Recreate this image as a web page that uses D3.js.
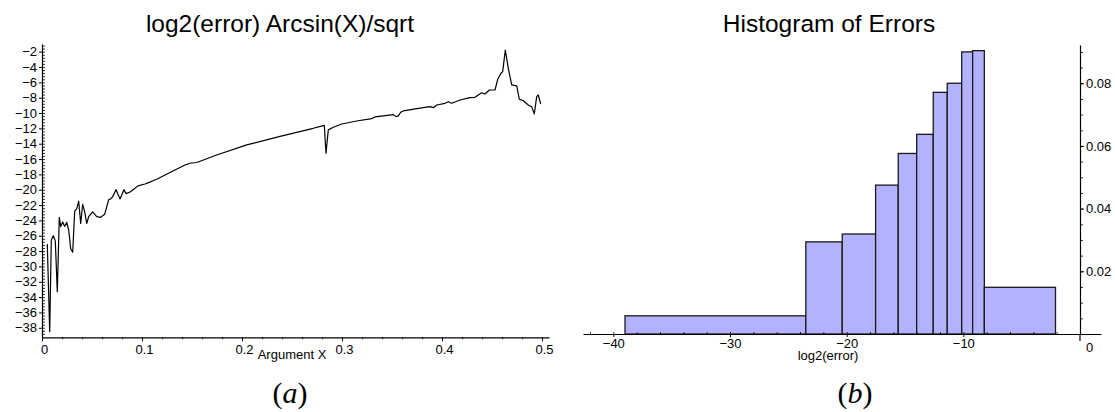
<!DOCTYPE html>
<html>
<head>
<meta charset="utf-8">
<script src="https://cdn.jsdelivr.net/npm/d3@7"></script>
<style>
  html, body { margin: 0; padding: 0; background: #fff; }
  svg { display: block; }
  .tick text { font-family: "Liberation Sans", Arial, sans-serif; font-size: 13px; fill: #000; }
  .title { font-family: "Liberation Sans", Arial, sans-serif; font-size: 24.5px; fill: #000; }
  .alabel { font-family: "Liberation Sans", Arial, sans-serif; font-size: 13px; fill: #000; }
  .cap { font-family: "Liberation Serif", "DejaVu Serif", serif; font-size: 30px; fill: #000; }
</style>
</head>
<body>
<svg id="chart" width="1115" height="412"></svg>
<script>
// ---- (a) log2 of the error of Arcsin(X)/sqrt against the argument ----
const argX = [
  0.0053, 0.0077, 0.0093, 0.0113, 0.0133, 0.0153, 0.0173, 0.0187, 0.0207, 0.0227,
  0.0247, 0.0267, 0.0287, 0.0307, 0.0327, 0.0347, 0.0367, 0.0387, 0.0407, 0.0427,
  0.0447, 0.0467, 0.0507, 0.0547, 0.0587, 0.0627, 0.0667, 0.0687, 0.0707, 0.0740,
  0.0780, 0.0820, 0.0840, 0.0880, 0.0920, 0.0960, 0.1030, 0.1060, 0.1147, 0.1310,
  0.1430, 0.1480, 0.1547, 0.1747, 0.2047, 0.2380, 0.2713, 0.2823, 0.2840, 0.2863,
  0.2913, 0.2997, 0.3147, 0.3297, 0.3330, 0.3513, 0.3540, 0.3563, 0.3587, 0.3613,
  0.3813, 0.3880, 0.3913, 0.3947, 0.4030, 0.4063, 0.4097, 0.4180, 0.4280, 0.4330,
  0.4363, 0.4397, 0.4430, 0.4473, 0.4530, 0.4557, 0.4590, 0.4607, 0.4633, 0.4663,
  0.4697, 0.4747, 0.4773, 0.4813, 0.4863, 0.4897, 0.4923, 0.4947, 0.4963, 0.4987
];
const log2Err = [
  -27.07, -38.5, -26.55, -26.0, -26.7, -33.3, -23.6, -24.8, -24.2, -24.8,
  -24.25, -25.25, -27.7, -28.15, -22.8, -22.5, -21.5, -24.4, -21.9, -22.9,
  -24.4, -23.5, -22.9, -23.5, -23.6, -23.2, -21.3, -21.2, -20.9, -20.0,
  -21.2, -20.0, -20.5, -20.3, -19.9, -19.5, -19.25, -19.1, -18.64, -17.55,
  -16.77, -16.55, -16.45, -15.47, -14.16, -13.05, -11.99, -11.6, -15.25, -12.2,
  -11.86, -11.43, -11.04, -10.73, -10.51, -10.21, -10.47, -10.38, -9.9, -9.73,
  -9.3, -9.17, -9.3, -8.95, -8.73, -8.52, -8.73, -8.3, -8.0, -7.95,
  -7.65, -7.35, -7.52, -7.0, -7.0, -5.6, -4.82, -4.6, -1.78, -4.17,
  -6.34, -6.47, -8.2, -8.39, -8.95, -9.17, -10.12, -7.87, -7.65, -8.82
];
const argTicks = [0, 0.1, 0.2, 0.3, 0.4, 0.5];
const argTickLabels = ["0", "0.1", "0.2", "0.3", "0.4", "0.5"];
const errTicks = d3.range(-2, -39, -2);

// ---- (b) histogram of log2(error), equal-area bins ----
const binEdges = [-39.0, -23.5, -20.38, -17.52, -15.58, -14.0, -12.58, -11.38, -10.14, -9.2, -8.2, -2.1];
const binDensity = [0.0058, 0.0294, 0.0319, 0.0475, 0.0576, 0.0637, 0.0771, 0.0800, 0.0900, 0.0904, 0.0149];
const histXTicks = [-40, -30, -20, -10];
const histXTickLabels = ["\u221240", "\u221230", "\u221220", "\u221210"];
const histYTicks = [0, 0.02, 0.04, 0.06, 0.08];
const histYTickLabels = ["0", "0.02", "0.04", "0.06", "0.08"];

const minus = s => s.replace("-", "\u2212");
const svg = d3.select("#chart");

// ===== left panel =====
const xL = d3.scaleLinear().domain([0, 0.507]).range([42, 549]);
const yL = d3.scaleLinear().domain([-39.24, -1.0]).range([337.3, 44]);

const gL = svg.append("g");

// minor ticks
gL.append("g").attr("transform", `translate(${xL(0)},0)`)
  .call(d3.axisRight(yL).tickValues(d3.range(-1.2, -39.2, -0.4)).tickSize(3).tickFormat(""))
  .call(g => g.select(".domain").remove())
  .call(g => g.selectAll("line").attr("stroke", "#000").attr("stroke-width", 0.8));
gL.append("g").attr("transform", `translate(0,${yL(-39.24)})`)
  .call(d3.axisBottom(xL).tickValues(d3.range(0.02, 0.51, 0.02)).tickSize(2).tickFormat(""))
  .call(g => g.select(".domain").remove())
  .call(g => g.selectAll("line").attr("stroke", "#000").attr("stroke-width", 0.8));

// major axes
gL.append("g").attr("transform", `translate(${xL(0)},0)`)
  .call(d3.axisLeft(yL).tickValues(errTicks).tickSize(3).tickPadding(2).tickSizeOuter(0)
    .tickFormat(d => minus(String(d))))
  .call(g => g.select(".domain").attr("stroke", "#000").attr("stroke-width", 1.2))
  .call(g => g.selectAll("text").attr("font-family", null).attr("font-size", null));
gL.append("g").attr("transform", `translate(0,${yL(-39.24)})`)
  .call(d3.axisBottom(xL).tickValues(argTicks).tickSize(4).tickPadding(3).tickSizeOuter(0)
    .tickFormat((d, i) => argTickLabels[i]))
  .call(g => g.select(".domain").attr("stroke", "#000").attr("stroke-width", 1.2))
  .call(g => g.selectAll("text").attr("font-family", null).attr("font-size", null).attr("dx", 2));

// error curve
const line = d3.line().x((d, i) => xL(argX[i])).y(d => yL(d));
gL.append("path").datum(log2Err)
  .attr("d", line)
  .attr("fill", "none")
  .attr("stroke", "#000")
  .attr("stroke-width", 1.2)
  .attr("stroke-linejoin", "round");

gL.append("text").attr("class", "title").attr("x", 280).attr("y", 32)
  .attr("text-anchor", "middle").text("log2(error) Arcsin(X)/sqrt");
gL.append("text").attr("class", "alabel").attr("x", 292).attr("y", 359)
  .attr("text-anchor", "middle").text("Argument X");
const capA = gL.append("text").attr("class", "cap").attr("x", 290).attr("y", 403).attr("text-anchor", "middle");
capA.append("tspan").text("(");
capA.append("tspan").attr("font-style", "italic").text("a");
capA.append("tspan").text(")");

// ===== right panel =====
const xR = d3.scaleLinear().domain([-42.6, 1.8]).range([583, 1101]);
const yR = d3.scaleLinear().domain([0, 0.0922]).range([334, 45]);

const gR = svg.append("g");

// bars
gR.selectAll("rect.bin").data(binDensity).join("rect")
  .attr("class", "bin")
  .attr("x", (d, i) => xR(binEdges[i]))
  .attr("width", (d, i) => xR(binEdges[i + 1]) - xR(binEdges[i]))
  .attr("y", d => yR(d))
  .attr("height", d => yR(0) - yR(d))
  .attr("fill", "#b2b2ff")
  .attr("stroke", "#1a1a1a")
  .attr("stroke-width", 1.3);

// minor ticks
gR.append("g").attr("transform", `translate(0,${yR(0)})`)
  .call(d3.axisBottom(xR).tickValues(d3.range(-42, 2, 2)).tickSize(-2).tickFormat(""))
  .call(g => g.select(".domain").remove())
  .call(g => g.selectAll("line").attr("stroke", "#000").attr("stroke-width", 0.8));
gR.append("g").attr("transform", `translate(${xR(0)},0)`)
  .call(d3.axisRight(yR).tickValues(d3.range(0.005, 0.092, 0.005)).tickSize(3).tickFormat(""))
  .call(g => g.select(".domain").remove())
  .call(g => g.selectAll("line").attr("stroke", "#000").attr("stroke-width", 0.8));

// major axes
gR.append("g").attr("transform", `translate(0,${yR(0)})`)
  .call(d3.axisBottom(xR).tickValues(histXTicks).tickSize(3).tickPadding(2).tickSizeOuter(0)
    .tickFormat((d, i) => histXTickLabels[i]))
  .call(g => g.select(".domain").attr("stroke", "#000").attr("stroke-width", 1.2))
  .call(g => g.selectAll("text").attr("font-family", null).attr("font-size", null));
gR.append("g").attr("transform", `translate(${xR(0)},0)`)
  .call(d3.axisRight(yR).tickValues(histYTicks).tickSize(4).tickPadding(2).tickSizeOuter(0)
    .tickFormat((d, i) => histYTickLabels[i]))
  .call(g => g.select(".domain").attr("stroke", "#000").attr("stroke-width", 1.2))
  .call(g => g.selectAll("text").attr("font-family", null).attr("font-size", null))
  .call(g => g.selectAll(".tick").filter(d => d === 0).select("text").attr("y", 6).attr("dy", "0.9em"));
// the vertical axis runs a little below the baseline
gR.append("line")
  .attr("x1", xR(0)).attr("x2", xR(0))
  .attr("y1", yR(0)).attr("y2", yR(0) + 7)
  .attr("stroke", "#000").attr("stroke-width", 1.2);

gR.append("text").attr("class", "title").attr("x", 829).attr("y", 32)
  .attr("text-anchor", "middle").text("Histogram of Errors");
gR.append("text").attr("class", "alabel").attr("x", 828).attr("y", 360)
  .attr("text-anchor", "middle").text("log2(error)");
const capB = gR.append("text").attr("class", "cap").attr("x", 855).attr("y", 403).attr("text-anchor", "middle");
capB.append("tspan").text("(");
capB.append("tspan").attr("font-style", "italic").text("b");
capB.append("tspan").text(")");
</script>
</body>
</html>
